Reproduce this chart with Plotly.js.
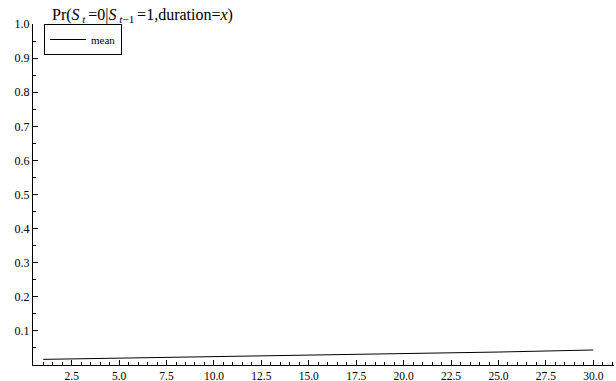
<!DOCTYPE html>
<html>
<head>
<meta charset="utf-8">
<script src="https://cdn.plot.ly/plotly-3.0.1.min.js"></script>
<style>html,body{margin:0;padding:0;background:#fff;}#chart{width:616px;height:381px;}</style>
</head>
<body>
<div id="chart"></div>
<script>
const duration = [1, 5, 10, 15, 20, 25, 30];
const meanProb = [0.0165, 0.0200, 0.0242, 0.0285, 0.0328, 0.0380, 0.0440];
const seriesName = "mean";
const xTicks = [2.5, 5, 7.5, 10, 12.5, 15, 17.5, 20, 22.5, 25, 27.5, 30];
const yTicks = [0.1, 0.2, 0.3, 0.4, 0.5, 0.6, 0.7, 0.8, 0.9, 1.0];
const chartTitle = "Pr(<i>S</i><sub> <i>t</i> </sub>=0|<i>S</i><sub> <i>t</i>−1 </sub>=1,duration=<i>x</i>)";

const fam = "Liberation Serif";
const font = {family: fam, color: "#000", size: 12};
const xfont = {family: fam, color: "#000", size: 11.5};

Plotly.newPlot("chart", [{
  x: duration, y: meanProb, name: seriesName, type: "scatter", mode: "lines",
  line: {color: "#000", width: 1}
}], {
  width: 616, height: 381,
  margin: {l: 33, r: 2, t: 24, b: 16, pad: 0},
  paper_bgcolor: "#fff", plot_bgcolor: "#fff",
  font: font,
  showlegend: true,
  title: {text: chartTitle, x: 52/616, xanchor: "left", xref: "container", y: 1 - 14/381, yanchor: "middle", yref: "container", font: {family: fam, size: 16, color: "#000"}},
  legend: {x: 0.019, y: 1.0, xanchor: "left", yanchor: "top", bordercolor: "#000", borderwidth: 1, bgcolor: "#fff", font: {family: fam, size: 11, color: "#000"}, itemwidth: 36, tracegroupgap: 0},
  xaxis: {range: [0.46, 31.09], showgrid: false, zeroline: false, showline: true, linecolor: "#000", linewidth: 1,
    ticks: "inside", ticklen: 5, tickcolor: "#000", tickmode: "array", tickvals: xTicks, ticktext: xTicks.map(v => v.toFixed(1)),
    minor: {dtick: 0.5, tick0: 0, ticks: "inside", ticklen: 3, tickcolor: "#000", showgrid: false},
    tickfont: xfont},
  yaxis: {range: [0, 1.0], showgrid: false, zeroline: false, showline: true, linecolor: "#000", linewidth: 1,
    ticks: "inside", ticklen: 5, tickcolor: "#000", tickmode: "array", tickvals: yTicks, ticktext: yTicks.map(v => v.toFixed(1)),
    minor: {dtick: 0.05, tick0: 0, ticks: "inside", ticklen: 3, tickcolor: "#000", showgrid: false},
    tickfont: font}
}, {staticPlot: true, displayModeBar: false});
</script>
</body>
</html>
